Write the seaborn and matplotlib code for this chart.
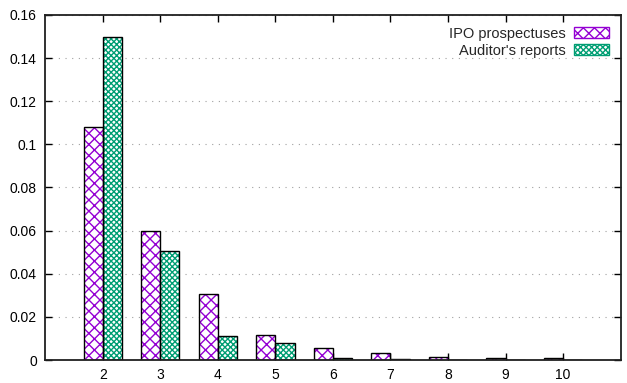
import matplotlib.pyplot as plt
import matplotlib.patches as mpatches
import pandas as pd
import seaborn as sns

# Values
k_values = [2, 3, 4, 5, 6, 7, 8, 9, 10]
ipo_prospectuses = [0.108, 0.060, 0.0306, 0.0115, 0.0057, 0.0031, 0.0015, 0.0010, 0.0010]
auditors_reports = [0.150, 0.0505, 0.0111, 0.0077, 0.0010, 0.0003, 0.0002, 0.0001, 0.0001]
series_names = ["IPO prospectuses", "Auditor's reports"]
series_colors = ["#9400d3", "#009e73"]
series_hatches = ["xxx", "xxxxxx"]

df = pd.DataFrame({
    "k": k_values * 2,
    "value": ipo_prospectuses + auditors_reports,
    "source": [series_names[0]] * len(k_values) + [series_names[1]] * len(k_values),
})

sns.set_style("ticks")
plt.rcParams["font.family"] = ["Liberation Sans", "DejaVu Sans"]
plt.rcParams["hatch.linewidth"] = 1.0

fig = plt.figure(figsize=(6.27, 3.83), dpi=100)
ax = fig.add_axes([0.072, 0.060, 0.918, 0.901])

sns.barplot(data=df, x="k", y="value", hue="source", native_scale=True,
            width=2 / 3, palette=series_colors, ax=ax, legend=False)

handles = []
for cont, color, hatch, name in zip(ax.containers, series_colors, series_hatches, series_names):
    for bar in cont:
        bar.set_facecolor("white")
        bar.set_edgecolor(color)
        bar.set_hatch(hatch)
        bar.set_linewidth(0)
        # black outline on top of the hatched bar
        ax.add_patch(mpatches.Rectangle(bar.get_xy(), bar.get_width(), bar.get_height(),
                                        fill=False, edgecolor="black", linewidth=1.0))
    handles.append(mpatches.Patch(facecolor="white", edgecolor=color, hatch=hatch,
                                  linewidth=1.0, label=name))

ax.set_xlim(1, 11)
ax.set_ylim(0, 0.16)
ax.set_xticks(k_values)
ax.set_xticklabels([str(k) for k in k_values])
ax.set_yticks([0, 0.02, 0.04, 0.06, 0.08, 0.1, 0.12, 0.14, 0.16])
ax.set_yticklabels(["0", "0.02", "0.04", "0.06", "0.08", "0.1", "0.12", "0.14", "0.16"])
ax.set_xlabel("")
ax.set_ylabel("")

ax.grid(axis="y", linestyle=(0, (1, 5)), color="#a0a0a0", linewidth=0.8)
ax.set_axisbelow(True)
ax.tick_params(direction="in", top=True, right=True, length=5, width=1,
               labelsize=10, pad=6, colors="black")
for side in ax.spines.values():
    side.set_visible(True)
    side.set_linewidth(1.3)
    side.set_color("#202020")

leg = ax.legend(handles=handles, loc="upper right", frameon=False, markerfirst=False,
                fontsize=10.5, handlelength=2.4, handleheight=0.7, handletextpad=0.6,
                borderaxespad=0.4, labelspacing=0.2)
for txt in leg.get_texts():
    txt.set_ha("right")

fig.savefig("out.png", dpi=100)
